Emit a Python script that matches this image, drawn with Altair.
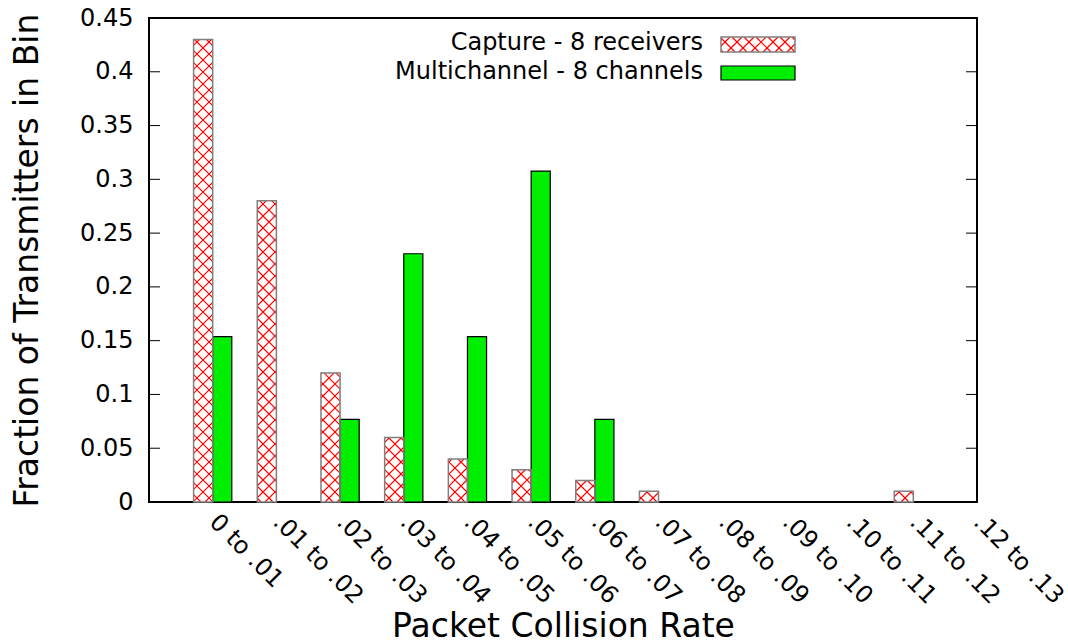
import json
import math

import altair as alt
import pandas as pd

# ---- data -------------------------------------------------------------
categories = ["0 to .01", ".01 to .02", ".02 to .03", ".03 to .04", ".04 to .05",
              ".05 to .06", ".06 to .07", ".07 to .08", ".08 to .09", ".09 to .10",
              ".10 to .11", ".11 to .12", ".12 to .13"]
capture = [0.43, 0.28, 0.12, 0.06, 0.04, 0.03, 0.02, 0.01, 0, 0, 0, 0.01, 0]
multichannel = [0.1538, 0, 0.0769, 0.2308, 0.1538, 0.3077, 0.0769, 0, 0, 0, 0, 0, 0]
y_ticks = [0, 0.05, 0.1, 0.15, 0.2, 0.25, 0.3, 0.35, 0.4, 0.45]
series_names = ["Capture - 8 receivers", "Multichannel - 8 channels"]

# ---- layout -----------------------------------------------------------
W, H = 828, 484
PAD = {"left": 149, "top": 18, "right": 1068 - 149 - W, "bottom": 643 - 18 - H}
XMIN, XMAX = -1, len(categories) - 1
YMAX = 0.45
BAR_W = 0.3
HATCH_STEP = 12
FONT = "DejaVu Sans"
GREEN = "#00ee00"
HATCH_RED = "#ff0000"
OUTLINE_GREY = "#808080"


def to_px(x, y):
    return (x - XMIN) * W / (XMAX - XMIN), H - y * H / YMAX


def from_px(px, py):
    return XMIN + px * (XMAX - XMIN) / W, (H - py) * YMAX / H


def crosshatch(x0, x1, y0, y1, step=HATCH_STEP):
    """Diagonal cross-hatch segments clipped to a pixel rectangle (y down)."""
    segs = []
    for k in range(math.floor((x0 - y1) / step), math.ceil((x1 - y0) / step) + 1):
        c = k * step  # py = px - c
        a, b = max(x0, y0 + c), min(x1, y1 + c)
        if b > a:
            segs.append((a, a - c, b, b - c))
    for k in range(math.floor((x0 + y0) / step), math.ceil((x1 + y1) / step) + 1):
        c = k * step  # py = c - px
        a, b = max(x0, c - y1), min(x1, c - y0)
        if b > a:
            segs.append((a, c - a, b, c - b))
    return segs


def segs_to_rows(segs):
    rows = []
    for ax, ay, bx, by in segs:
        x, y = from_px(ax, ay)
        x2, y2 = from_px(bx, by)
        rows.append({"x": x, "y": y, "x2": x2, "y2": y2})
    return rows


# ---- bar tables -------------------------------------------------------
cap_df = pd.DataFrame([{"x0": i - BAR_W, "x1": i, "v": v}
                       for i, v in enumerate(capture) if v > 0])
mul_df = pd.DataFrame([{"x0": i, "x1": i + BAR_W, "v": v}
                       for i, v in enumerate(multichannel) if v > 0])

hatch_rows = []
for r in cap_df.itertuples():
    px0, py_top = to_px(r.x0, r.v)
    px1, py_bot = to_px(r.x1, 0)
    hatch_rows += segs_to_rows(crosshatch(px0, px1, py_top, py_bot))

# ---- legend (pixel layout converted into data units) --------------------
LEG_TEXT_X = 554
LEG_SW_X0, LEG_SW_X1 = 572, 646
LEG_ROWS = [(19, 34, 32), (48, 62, 61)]  # swatch top, swatch bottom, text baseline

leg_sw = []
leg_text = []
for name, (t, b, base) in zip(series_names, LEG_ROWS):
    sx0, sy0 = from_px(LEG_SW_X0, b)
    sx1, sy1 = from_px(LEG_SW_X1, t)
    leg_sw.append({"name": name, "x0": sx0, "x1": sx1, "y0": sy0, "y1": sy1})
    tx, ty = from_px(LEG_TEXT_X, base)
    leg_text.append({"name": name, "x": tx, "y": ty})
leg_sw_df = pd.DataFrame(leg_sw)
leg_text_df = pd.DataFrame(leg_text)
t0, b0, _ = LEG_ROWS[0]
hatch_rows += segs_to_rows(crosshatch(LEG_SW_X0, LEG_SW_X1, t0, b0))
hatch_df = pd.DataFrame(hatch_rows)

# ---- scales & axes ----------------------------------------------------
label_expr = json.dumps(categories) + "[datum.value]"
xscale = alt.Scale(domain=[XMIN, XMAX], nice=False, zero=False)
yscale = alt.Scale(domain=[0, YMAX], nice=False, zero=False)
xaxis = alt.Axis(values=list(range(len(categories))), labelExpr=label_expr,
                 grid=False, ticks=False, tickSize=0, domain=False,
                 labelAngle=45, labelAlign="left", labelBaseline="middle",
                 labelPadding=16, labelFontSize=24, labelFont=FONT, labelColor="black",
                 labelOverlap=False, labelFlush=False, labelLimit=400,
                 title="Packet Collision Rate", titleFontSize=33, titleFont=FONT,
                 titleFontWeight="normal", titleColor="black",
                 titleY=134, titleBaseline="alphabetic")
yaxis = alt.Axis(values=y_ticks, format="~g", grid=False, ticks=False, tickSize=0,
                 domain=False, labelPadding=16, labelFontSize=24, labelFont=FONT,
                 labelColor="black",
                 title="Fraction of Transmitters in Bin", titleFontSize=33,
                 titleFont=FONT, titleFontWeight="normal", titleColor="black",
                 titleAngle=270, titleX=-112, titleY=H / 2, titleAlign="center",
                 titleBaseline="alphabetic")


def X(field):
    return alt.X(field, type="quantitative", scale=xscale, axis=xaxis)


def Y(field):
    return alt.Y(field, type="quantitative", scale=yscale, axis=yaxis)


cap_fill = alt.Chart(cap_df).mark_rect(fill="white", strokeWidth=0).encode(
    x=X("x0"), x2="x1", y=Y("v"), y2=alt.datum(0))
cap_outline = alt.Chart(cap_df).mark_rect(
    fillOpacity=0, stroke=OUTLINE_GREY, strokeWidth=1.5).encode(
    x=X("x0"), x2="x1", y=Y("v"), y2=alt.datum(0))
mul_bars = alt.Chart(mul_df).mark_rect(
    fill=GREEN, stroke="black", strokeWidth=1.2).encode(
    x=X("x0"), x2="x1", y=Y("v"), y2=alt.datum(0))
hatch = alt.Chart(hatch_df).mark_rule(color=HATCH_RED, strokeWidth=1.2).encode(
    x=X("x"), y=Y("y"), x2="x2", y2="y2")

# inward tick marks on the left and right frame edges
tick_df = pd.DataFrame({"t": y_ticks})
left_ticks = alt.Chart(tick_df).mark_rule(color="black", strokeWidth=1).encode(
    y=Y("t"), x=alt.value(0), x2=alt.value(11))
right_ticks = alt.Chart(tick_df).mark_rule(color="black", strokeWidth=1).encode(
    y=Y("t"), x=alt.value(W - 11), x2=alt.value(W))

# legend
leg_cap_fill = alt.Chart(leg_sw_df.iloc[[0]]).mark_rect(fill="white", strokeWidth=0).encode(
    x=X("x0"), x2="x1", y=Y("y0"), y2="y1")
leg_cap_outline = alt.Chart(leg_sw_df.iloc[[0]]).mark_rect(
    fillOpacity=0, stroke=OUTLINE_GREY, strokeWidth=1.5).encode(
    x=X("x0"), x2="x1", y=Y("y0"), y2="y1")
leg_mul = alt.Chart(leg_sw_df.iloc[[1]]).mark_rect(
    fill=GREEN, stroke="black", strokeWidth=1.2).encode(
    x=X("x0"), x2="x1", y=Y("y0"), y2="y1")
leg_labels = alt.Chart(leg_text_df).mark_text(
    align="right", baseline="alphabetic", font=FONT, fontSize=24, color="black").encode(
    x=X("x"), y=Y("y"), text="name:N")

chart = alt.layer(
    cap_fill, mul_bars, leg_cap_fill, leg_mul, hatch, cap_outline, leg_cap_outline,
    left_ticks, right_ticks, leg_labels,
).properties(
    width=W, height=H,
    autosize=alt.AutoSizeParams(type="none"),
    padding=PAD,
    background="white",
).configure_view(
    stroke="black", strokeWidth=2,
)

chart.save("out.html", embed_options={"renderer": "svg", "actions": False})
